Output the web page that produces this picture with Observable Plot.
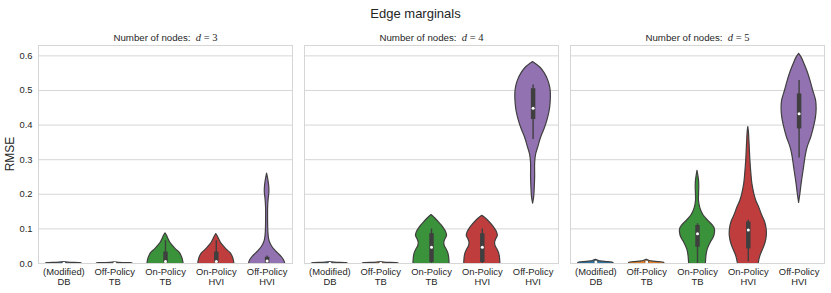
<!DOCTYPE html>
<html><head><meta charset="utf-8">
<script src="https://cdn.jsdelivr.net/npm/d3@7"></script>
<script src="https://cdn.jsdelivr.net/npm/@observablehq/plot@0.6"></script>
<style>
body{margin:0;background:#fff;}
#title{width:831px;height:24px;line-height:27px;text-align:center;font-family:"Liberation Sans",Arial,sans-serif;font-size:13px;color:#262626;overflow:visible;}
</style></head><body>
<div id="title">Edge marginals</div>
<div id="chart"></div>
<script>
// categories
const methods = ["(Modified)\nDB", "Off-Policy\nTB", "On-Policy\nTB", "On-Policy\nHVI", "Off-Policy\nHVI"];
const palette = ["#3274a1", "#e1812c", "#3a923a", "#c03d3e", "#9372b2"];
const nodes = [3, 4, 5];
const yTicks = [0, 0.1, 0.2, 0.3, 0.4, 0.5, 0.6];

// violin profiles: [RMSE value, half-width of density]
const violins_d3 = [
  [[-0.01,0.35],[0,0.35],[0.001,0.3],[0.002,0.15],[0.003,0.05],[0.004,0]],
  [[-0.01,0.35],[0,0.35],[0.001,0.25],[0.002,0.08],[0.003,0]],
  [[-0.01,0.36],[0,0.355],[0.01,0.343],[0.02,0.32],[0.03,0.285],[0.04,0.21],[0.05,0.15],[0.06,0.095],[0.07,0.06],[0.08,0.03],[0.087,0]],
  [[-0.01,0.36],[0,0.355],[0.01,0.343],[0.02,0.32],[0.03,0.28],[0.04,0.205],[0.05,0.145],[0.06,0.09],[0.07,0.055],[0.078,0.03],[0.085,0]],
  [[-0.01,0.36],[0,0.355],[0.01,0.33],[0.02,0.28],[0.03,0.21],[0.04,0.145],[0.05,0.095],[0.06,0.06],[0.07,0.04],[0.09,0.025],[0.12,0.02],[0.16,0.02],[0.185,0.03],[0.205,0.045],[0.225,0.04],[0.245,0.02],[0.26,0]]
];
const violins_d4 = [
  [[-0.01,0.35],[0,0.35],[0.001,0.3],[0.002,0.15],[0.003,0.05],[0.004,0]],
  [[-0.01,0.35],[0,0.35],[0.001,0.3],[0.002,0.12],[0.003,0.04],[0.004,0]],
  [[-0.01,0.355],[0,0.355],[0.01,0.352],[0.02,0.345],[0.03,0.33],[0.04,0.3],[0.05,0.262],[0.06,0.252],[0.07,0.275],[0.08,0.305],[0.09,0.29],[0.1,0.25],[0.11,0.2],[0.12,0.14],[0.13,0.075],[0.14,0]],
  [[-0.01,0.355],[0,0.355],[0.01,0.352],[0.02,0.345],[0.03,0.33],[0.04,0.3],[0.05,0.262],[0.06,0.252],[0.07,0.275],[0.08,0.305],[0.09,0.29],[0.1,0.25],[0.11,0.2],[0.12,0.14],[0.13,0.07],[0.138,0]],
  [[0.173,0],[0.19,0.02],[0.21,0.03],[0.25,0.04],[0.29,0.04],[0.315,0.06],[0.34,0.11],[0.365,0.16],[0.39,0.23],[0.415,0.285],[0.44,0.325],[0.465,0.345],[0.49,0.35],[0.51,0.335],[0.53,0.295],[0.55,0.226],[0.565,0.15],[0.582,0]]
];
const violins_d5 = [
  [[-0.01,0.35],[0,0.35],[0.002,0.34],[0.004,0.25],[0.006,0.1],[0.008,0.05],[0.011,0]],
  [[-0.01,0.35],[0,0.35],[0.002,0.34],[0.004,0.25],[0.006,0.1],[0.008,0.05],[0.011,0]],
  [[-0.01,0.16],[0,0.165],[0.02,0.175],[0.04,0.2],[0.06,0.26],[0.075,0.32],[0.09,0.345],[0.1,0.34],[0.11,0.3],[0.125,0.2],[0.14,0.115],[0.16,0.055],[0.18,0.03],[0.2,0.03],[0.22,0.035],[0.24,0.03],[0.255,0.015],[0.268,0]],
  [[-0.01,0.2],[0,0.205],[0.02,0.235],[0.04,0.29],[0.06,0.34],[0.08,0.365],[0.1,0.36],[0.12,0.33],[0.14,0.27],[0.16,0.22],[0.18,0.16],[0.2,0.12],[0.23,0.08],[0.26,0.06],[0.3,0.04],[0.33,0.03],[0.36,0.02],[0.38,0.012],[0.394,0]],
  [[0.175,0],[0.2,0.025],[0.23,0.05],[0.28,0.1],[0.31,0.13],[0.335,0.167],[0.365,0.24],[0.395,0.295],[0.42,0.33],[0.445,0.345],[0.47,0.335],[0.5,0.276],[0.525,0.23],[0.55,0.177],[0.575,0.11],[0.595,0.05],[0.606,0]]
];

// inner boxes: [whisker low, q1, median, q3, whisker high]
const boxes_d3 = [[0,0,0.001,0.002,0.003],[0,0,0.0008,0.0015,0.002],[0,0.002,0.006,0.033,0.066],[0,0.002,0.006,0.033,0.066],[0,0.001,0.007,0.018,0.022]];
const boxes_d4 = [[0,0,0.001,0.002,0.003],[0,0,0.001,0.002,0.003],[0,0.003,0.047,0.086,0.1],[0,0.003,0.047,0.086,0.1],[0.358,0.416,0.449,0.505,0.516]];
const boxes_d5 = [[0,0.002,0.004,0.006,0.008],[0,0.002,0.004,0.006,0.008],[0,0.047,0.086,0.11,0.115],[0.005,0.042,0.097,0.12,0.125],[0.305,0.389,0.433,0.49,0.529]];

const panels = [
  {d: 3, profiles: violins_d3, boxes: boxes_d3},
  {d: 4, profiles: violins_d4, boxes: boxes_d4},
  {d: 5, profiles: violins_d5, boxes: boxes_d5}
];

const areaRows = [], boxRows = [], labelRows = [];
panels.forEach(p => {
  p.profiles.forEach((prof, i) => prof.forEach(([v, hw]) =>
    areaRows.push({d: p.d, method: methods[i], key: p.d + "-" + i, v, x1: i - hw, x2: i + hw})));
  p.boxes.forEach(([wlo, q1, med, q3, whi], i) =>
    boxRows.push({d: p.d, i, wlo, q1, med, q3, whi}));
  methods.forEach((m, i) => labelRows.push({d: p.d, i, label: m}));
});

const ink = "#3f3f3f";
const grid = "#d6d6d6";

const plot = Plot.plot({
  width: 831,
  height: 269,
  marginTop: 21,
  marginBottom: 30,
  marginLeft: 37,
  marginRight: 6,
  style: {fontFamily: "'Liberation Sans', Arial, sans-serif", fontSize: "9.4px", color: "#262626", background: "#fff"},
  fx: {domain: nodes, paddingInner: 0.0448, paddingOuter: 0, axis: null},
  x: {domain: [-0.5, 4.5], axis: null},
  y: {domain: [0, 0.63], ticks: yTicks, tickFormat: d3.format(".1f"), tickSize: 0, tickPadding: 6, label: null},
  color: {domain: methods, range: palette},
  marks: [
    Plot.ruleY(yTicks, {stroke: grid, strokeWidth: 1}),
    Plot.frame({stroke: grid, strokeWidth: 1}),
    Plot.areaX(areaRows, {fx: "d", y: "v", x1: "x1", x2: "x2", z: "key", fill: "method", stroke: ink, strokeWidth: 1.2, curve: "catmull-rom", clip: true}),
    Plot.ruleX(boxRows, {fx: "d", x: "i", y1: "wlo", y2: "whi", stroke: ink, strokeWidth: 1.4}),
    Plot.ruleX(boxRows, {fx: "d", x: "i", y1: "q1", y2: "q3", stroke: ink, strokeWidth: 4.5}),
    Plot.dot(boxRows, {fx: "d", x: "i", y: "med", r: 1.5, fill: "white", stroke: "none"}),
    Plot.text(labelRows, {fx: "d", x: "i", text: "label", frameAnchor: "bottom", lineAnchor: "top", dy: 4.6, lineHeight: 1.07, fill: "#262626"}),
    Plot.text(nodes, {fx: d => d, text: d => "Number of nodes: d = " + d, frameAnchor: "top", dy: -11, fill: "#262626"})
  ]
});

document.getElementById("chart").appendChild(plot);
const svg = d3.select(plot);

// panel titles with math-styled "d = n"
svg.selectAll("text").filter(function() { return this.textContent.startsWith("Number of nodes"); })
  .each(function() {
    const n = this.textContent.split("= ")[1];
    const t = d3.select(this);
    t.text(null);
    t.append("tspan").attr("font-family", "'Liberation Sans', Arial, sans-serif").attr("font-size", "9.7px").text("Number of nodes:\u00a0\u00a0");
    t.append("tspan").attr("font-family", "'Liberation Serif', 'DejaVu Serif', serif").attr("font-style", "italic").attr("font-size", "10.5px").text("d");
    t.append("tspan").attr("font-family", "'Liberation Serif', 'DejaVu Serif', serif").attr("font-size", "10.5px").text("\u00a0=\u00a0" + n);
  });

// y-axis title
svg.append("text")
  .attr("transform", "translate(14,130) rotate(-90)")
  .attr("text-anchor", "middle")
  .attr("font-family", "'Liberation Sans', Arial, sans-serif")
  .attr("font-size", "12px")
  .attr("fill", "#262626")
  .text("RMSE");
</script>
</body></html>
